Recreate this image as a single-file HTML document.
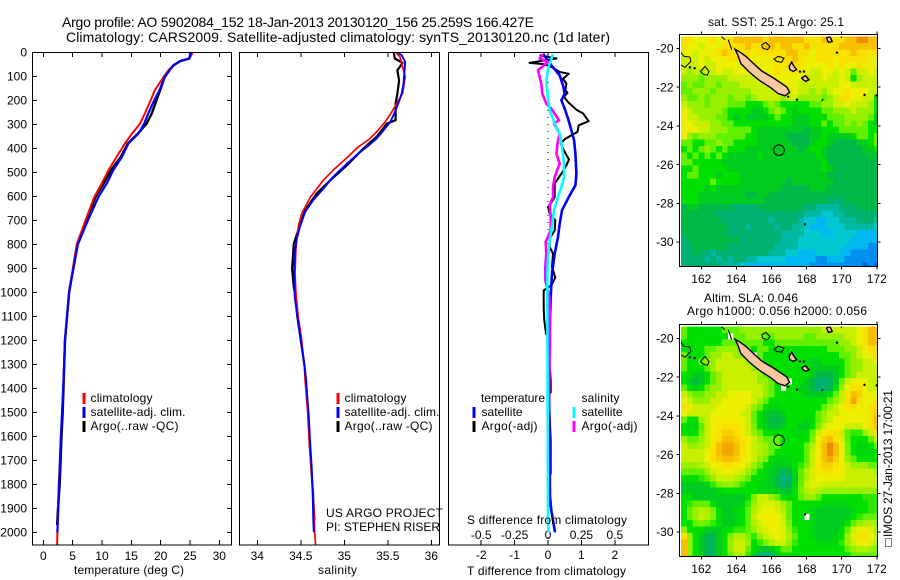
<!DOCTYPE html>
<html lang="en">
<head>
<meta charset="utf-8">
<title>Argo profile</title>
<style>
html,body{margin:0;padding:0;background:#fff;}
svg{display:block;}
text{font-family:"Liberation Sans",Arial,sans-serif;font-size:12px;fill:#000;}
.t14{font-size:14px;}
.ax{fill:none;stroke:#000;stroke-width:1;shape-rendering:crispEdges;}
.tk{stroke:#000;stroke-width:1;shape-rendering:crispEdges;}
.sw{stroke-width:3;shape-rendering:crispEdges;}
.pr{fill:none;stroke-linejoin:round;}
</style>
</head>
<body>
<svg id="chart" xmlns="http://www.w3.org/2000/svg" width="900" height="580" viewBox="0 0 900 580">
  <rect x="0" y="0" width="900" height="580" fill="#fff"/>
  <defs>
    <clipPath id="clipSst"><rect x="681" y="36.5" width="196.5" height="230"/></clipPath>
    <clipPath id="clipSla"><rect x="681" y="326.5" width="196.5" height="230"/></clipPath>
  </defs>
  <text class="t14" x="62" y="27" textLength="472" lengthAdjust="spacing">Argo profile: AO 5902084_152 18-Jan-2013 20130120_156 25.259S 166.427E</text>
  <text class="t14" x="66" y="42" textLength="544" lengthAdjust="spacing">Climatology: CARS2009. Satellite-adjusted climatology: synTS_20130120.nc (1d later)</text>

  <g id="p1"></g>
  <g id="p2"></g>
  <g id="p3"></g>
  <g id="m1"></g>
  <g id="m2"></g>

  <rect class="ax" x="32.5" y="52.5" width="199" height="492.5"/>
  <rect class="ax" x="239.5" y="52.5" width="200" height="492.5"/>
  <rect class="ax" x="448.5" y="52.5" width="200" height="492.5"/>

  <text x="74" y="574" textLength="110" lengthAdjust="spacing">temperature (deg C)</text>
  <text x="318" y="574" textLength="39" lengthAdjust="spacing">salinity</text>
  <text x="467" y="575" textLength="159" lengthAdjust="spacing">T difference from climatology</text>
  <text x="467" y="524" textLength="160" lengthAdjust="spacing">S difference from climatology</text>

  <g>
    <line class="sw" x1="84" x2="84" y1="393" y2="404" stroke="#f00"/>
    <line class="sw" x1="84" x2="84" y1="407" y2="418" stroke="#00f"/>
    <line class="sw" x1="84" x2="84" y1="421" y2="432" stroke="#000"/>
    <text x="90.5" y="402" textLength="62" lengthAdjust="spacing">climatology</text>
    <text x="90.5" y="416" textLength="95" lengthAdjust="spacing">satellite-adj. clim.</text>
    <text x="90.5" y="430" textLength="88" lengthAdjust="spacing">Argo(..raw -QC)</text>
  </g>
  <g>
    <line class="sw" x1="338" x2="338" y1="393" y2="404" stroke="#f00"/>
    <line class="sw" x1="338" x2="338" y1="407" y2="418" stroke="#00f"/>
    <line class="sw" x1="338" x2="338" y1="421" y2="432" stroke="#000"/>
    <text x="344.5" y="402" textLength="62" lengthAdjust="spacing">climatology</text>
    <text x="344.5" y="416" textLength="95" lengthAdjust="spacing">satellite-adj. clim.</text>
    <text x="344.5" y="430" textLength="88" lengthAdjust="spacing">Argo(..raw -QC)</text>
  </g>
  <text x="326" y="517" textLength="117" lengthAdjust="spacing">US ARGO PROJECT</text>
  <text x="326" y="531" textLength="114" lengthAdjust="spacing">PI: STEPHEN RISER</text>

  <g>
    <text x="481" y="402" textLength="64" lengthAdjust="spacing">temperature</text>
    <line class="sw" x1="474" x2="474" y1="407" y2="418" stroke="#00f"/>
    <line class="sw" x1="474" x2="474" y1="421" y2="432" stroke="#000"/>
    <text x="481.5" y="416" textLength="41" lengthAdjust="spacing">satellite</text>
    <text x="481.5" y="430" textLength="56" lengthAdjust="spacing">Argo(-adj)</text>
    <text x="581.5" y="402" textLength="38" lengthAdjust="spacing">salinity</text>
    <line class="sw" x1="574" x2="574" y1="407" y2="418" stroke="#0ff"/>
    <line class="sw" x1="574" x2="574" y1="421" y2="432" stroke="#f0f"/>
    <text x="581.5" y="416" textLength="41" lengthAdjust="spacing">satellite</text>
    <text x="581.5" y="430" textLength="56" lengthAdjust="spacing">Argo(-adj)</text>
  </g>

  <text x="708" y="26" textLength="136" lengthAdjust="spacing">sat. SST: 25.1 Argo: 25.1</text>
  <text x="704" y="302" textLength="94" lengthAdjust="spacing">Altim. SLA: 0.046</text>
  <text x="687" y="315" textLength="180" lengthAdjust="spacing">Argo h1000: 0.056 h2000: 0.056</text>
  <text transform="translate(892 537) rotate(-90)" x="0" y="0" textLength="147" lengthAdjust="spacing">IMOS 27-Jan-2013 17:00:21</text>
  <rect x="885.5" y="538.5" width="6" height="8" fill="none" stroke="#000" stroke-width="1" stroke-dasharray="1 1" shape-rendering="crispEdges"/>
</svg>

<script>
/* ---------- profile data: depth in metres, temperature deg C, salinity PSU ---------- */
const tempSatDepths  = [0,26,37,54,72,103,158,200,255,297,339,380,436,492,547,603,700,800,1000,1200,1400,1500,1600,1700,1800,1900,2000];
const tempSatValues  = [25.1,24.9,23.3,22.2,21.6,20.7,19.8,18.9,17.9,17.2,16.2,14.5,13.4,11.9,10.8,9.4,7.6,5.9,4.4,3.7,3.4,3.2,3.0,2.85,2.7,2.55,2.4];
const tempClimDepths = [0,26,37,54,72,103,158,200,255,297,339,380,436,492,547,603,700,800,1000,1200,1400,1500,1600,1700,1800,1900,2000,2054];
const tempClimValues = [25.5,24.9,23.3,22.2,21.4,20.5,19.0,18.3,17.3,16.5,15.1,13.9,12.5,11.1,9.95,8.7,7.2,5.7,4.4,3.7,3.4,3.2,3.0,2.85,2.65,2.5,2.4,2.35];
const tempArgoDepths = [0,26,37,54,72,103,158,200,255,297,339,380,436,492,547,603,700,800,1000,1200,1400,1500,1600,1700,1800,1900,1970];
const tempArgoValues = [25.1,24.9,23.3,22.2,21.6,20.7,19.9,19.3,18.5,17.6,16.1,14.4,13.2,11.5,10.3,8.9,7.3,5.8,4.4,3.7,3.45,3.3,3.1,2.95,2.8,2.5,2.35];

const salSatDepths  = [3,12,40,89,131,172,214,249,290,325,360,388,422,464,519,568,617,665,728,783,839,922,1019,1100,1200,1300,1367,1436,1505,1644,1728,1839,1950,2000];
const salSatValues  = [35.62,35.66,35.70,35.69,35.68,35.66,35.62,35.58,35.53,35.45,35.37,35.28,35.16,35.03,34.87,34.76,34.64,34.55,34.49,34.45,34.43,34.425,34.43,34.46,34.50,34.54,34.56,34.575,34.59,34.61,34.625,34.637,34.644,34.65];
const salClimDepths = [3,19,103,172,214,249,290,332,364,394,439,485,533,603,672,728,811,922,1006,1100,1200,1300,1367,1436,1505,1644,1728,1839,1950,2000,2054];
const salClimValues = [35.60,35.64,35.70,35.67,35.60,35.545,35.47,35.37,35.28,35.16,35.03,34.89,34.76,34.61,34.51,34.47,34.445,34.433,34.445,34.47,34.51,34.54,34.55,34.565,34.58,34.60,34.62,34.64,34.655,34.66,34.67];
const salArgoDepths = [3,26,44,75,117,172,214,283,297,353,401,471,533,589,658,742,797,901,978,1019,1100,1200,1300,1367,1436,1505,1644,1728,1839,1950];
const salArgoValues = [35.57,35.58,35.67,35.61,35.63,35.61,35.59,35.59,35.49,35.37,35.22,35.03,34.84,34.68,34.55,34.47,34.42,34.40,34.42,34.44,34.46,34.50,34.54,34.56,34.57,34.585,34.605,34.62,34.64,34.655];

/* ---------- difference data ---------- */
const diffTSatDepths  = [6,54,96,138,172,200,235,276,325,367,422,506,554,596,658,714,769,839,922,1019,1158,1367,1853,1908,1950,2000];
const diffTSatValues  = [-0.15,0.10,0.35,0.45,0.50,0.40,0.50,0.60,0.70,0.78,0.82,0.85,0.82,0.65,0.42,0.35,0.30,0.20,0.12,0.08,0.05,0.03,0.06,0.10,0.15,0.21];
const diffTArgoDepths = [12,26,44,50,61,82,89,110,131,158,169,186,207,239,255,287,304,332,346,362,381,415,447,471,506,547,603,631,644,672,700,742,776,811,839,894,939,971,992,1067,1117,1172,1186,1367,1417,1425,1617,1755,1770,1894];
const diffTArgoValues = [-0.25,0.25,-0.55,-0.10,0.10,0.35,0.62,0.45,0.55,0.52,0.58,0.48,0.60,0.85,1.05,1.22,0.92,0.88,0.70,0.50,0.38,0.50,0.63,0.55,0.40,0.20,0.20,0.08,0,0.05,0.22,0.20,0.05,0.05,0.15,0.12,0.22,0.10,-0.13,-0.13,-0.11,-0.06,0,0.08,0.08,0.02,0.08,0.08,0.03,0.05];
const diffSSatDepths  = [8,68,117,193,242,297,339,394,464,519,561,603,658,728,783,853,922,1019,1500,1950,2000];
const diffSSatValues  = [0.0375,0,-0.0125,0,0.0125,0.05,0.0875,0.105,0.12,0.12,0.10,0.075,0.045,0.03,0.0125,0,-0.005,-0.005,-0.0025,0,0.005];
const diffSArgoDepths = [8,26,40,75,131,172,214,235,283,297,339,367,422,464,519,561,603,637,686,742,790,839,894,950,1019,1100,1214,1500];
const diffSArgoValues = [-0.0375,-0.0625,0,-0.075,-0.05,-0.0425,-0.0125,0.025,0.0825,0.045,0.0875,0.075,0.0625,0.0875,0.05,0.0375,0.0375,0.0125,0.02,0.02,-0.0175,-0.0125,-0.02,-0.02,0.01,0.015,0.015,0.005];

/* ---------- tick labels ---------- */
const depthTicks = [0,100,200,300,400,500,600,700,800,900,1000,1100,1200,1300,1400,1500,1600,1700,1800,1900,2000];
const tempTicks  = [0,5,10,15,20,25,30];
const salTicks   = [34,34.5,35,35.5,36];
const diffTTicks = [-2,-1,0,1,2];
const diffSTicks = ['-0.5','-0.25','0','0.25','0.5'];
const lonTicks   = [162,164,166,168,170,172];
const latTicks   = [20,22,24,26,28,30];

/* ---------- map grids: colour-scale level per 1/3 degree cell, rows north to south ---------- */
const sstLevels = [
[13,13,12,12,12,13,12,12,13,14,14,14,14,14,13,14,14,14,14,14,14,13,13,13,14,13,13,13,14,14,15,15,14,14],
[13,12,12,11,12,12,12,13,13,13,13,14,13,13,14,14,13,14,14,13,13,14,13,13,13,13,13,14,14,14,14,14,14,14],
[12,12,11,12,12,12,13,14,13,13,13,13,12,13,13,13,13,13,14,14,13,13,12,13,13,13,13,13,13,14,13,13,13,13],
[11,12,11,12,11,12,12,12,13,13,12,12,12,12,12,12,13,13,13,14,13,12,12,13,13,13,12,13,13,13,13,13,12,12],
[11,11,11,12,11,11,12,12,12,12,12,12,12,12,12,12,13,12,13,13,13,12,12,12,12,13,12,13,12,12,13,12,12,12],
[11,10,11,10,11,11,12,11,11,12,12,12,12,11,12,12,13,12,12,13,12,12,11,11,12,12,11,12,11,9,11,11,12,11],
[10,10,10,9,10,10,10,10,11,11,11,11,11,12,12,12,12,12,12,12,12,11,11,11,12,11,11,12,11,8,10,11,11,11],
[9,10,9,9,10,10,9,10,10,10,11,11,11,11,11,12,12,12,12,12,11,11,11,11,11,11,11,12,12,11,11,11,11,11],
[9,9,10,10,10,9,10,10,10,10,10,10,11,11,11,11,11,11,11,12,11,11,10,11,10,11,12,12,13,12,12,12,11,11],
[10,9,9,10,9,10,10,10,9,10,10,9,10,11,11,11,11,10,11,11,10,10,10,10,9,10,11,13,13,12,12,11,11,8],
[11,10,10,10,9,10,10,10,9,9,9,8,8,8,9,10,9,8,8,8,8,8,9,9,10,10,11,11,12,11,11,11,10,8],
[12,11,10,10,10,10,10,9,8,8,8,8,7,7,8,9,10,9,8,7,8,8,8,8,9,9,10,10,10,11,10,10,10,8],
[12,11,11,10,10,10,9,9,8,7,8,7,7,7,7,8,9,8,8,7,7,7,8,8,8,9,9,9,10,10,10,10,9,7],
[12,12,11,11,11,10,10,9,9,8,8,8,8,8,8,8,8,8,8,7,7,7,8,8,9,8,9,9,10,9,10,9,8,7],
[12,12,12,11,11,10,10,10,9,9,9,9,8,7,7,7,7,7,7,7,7,6,7,7,8,8,8,9,9,9,9,9,8,8],
[12,10,9,10,10,10,9,9,9,9,9,8,8,7,7,7,7,7,6,6,6,6,7,7,8,7,7,7,7,8,9,9,8,9],
[9,9,8,8,9,9,10,9,9,8,8,8,8,7,7,7,7,7,7,6,6,6,7,8,8,7,6,6,6,6,7,7,8,9],
[8,9,8,9,10,9,8,9,8,8,8,7,7,7,7,7,7,7,7,7,6,7,8,8,7,6,6,6,6,6,6,7,7,8],
[9,8,9,8,9,8,9,8,7,7,7,7,7,8,7,7,7,7,7,7,7,7,7,8,7,6,6,6,6,6,6,6,7,6],
[9,9,8,8,8,8,8,7,7,7,7,7,7,7,7,7,7,7,7,7,7,7,7,7,8,6,6,6,6,6,6,6,6,6],
[8,8,9,8,8,8,8,8,7,7,7,7,7,7,7,7,7,7,7,7,7,7,7,7,8,7,6,6,6,6,6,6,6,6],
[8,9,9,8,8,8,7,8,8,8,7,7,7,7,7,7,7,7,7,7,7,7,7,7,7,6,6,6,6,6,6,6,6,6],
[8,8,8,8,8,9,8,8,8,8,7,7,7,7,7,7,7,7,6,7,7,7,7,7,7,7,6,6,6,6,6,6,6,6],
[8,8,8,8,7,8,7,7,7,7,7,7,7,7,7,7,7,6,6,6,6,6,7,7,7,6,6,6,6,6,6,6,6,6],
[8,8,8,7,7,7,7,7,7,7,7,6,6,7,7,6,6,6,6,6,6,6,6,6,6,6,6,6,6,6,6,6,6,6],
[8,8,8,7,7,7,7,7,7,7,7,7,7,7,6,6,6,6,6,6,6,6,6,6,6,5,5,5,6,6,6,6,6,6],
[6,7,7,6,6,6,6,6,6,5,5,5,5,6,6,6,6,6,6,6,6,5,5,4,4,4,4,5,5,5,6,6,6,6],
[6,6,6,6,6,6,5,5,5,5,5,5,5,5,5,5,5,5,5,5,5,4,4,4,3,3,4,4,5,5,5,5,5,5],
[6,6,6,6,6,6,6,5,5,5,5,5,5,5,5,4,5,5,5,5,4,3,3,2,2,3,3,4,4,4,5,5,5,4],
[6,6,6,6,6,6,6,6,5,5,5,4,5,5,5,5,4,5,5,4,4,3,2,2,2,3,3,3,4,4,4,4,4,3],
[6,6,6,6,6,6,6,6,5,5,5,5,5,5,5,5,5,4,4,4,4,3,3,3,2,2,3,3,3,3,2,2,2,2],
[5,6,6,6,6,6,6,6,6,6,5,5,5,5,5,5,5,4,4,4,3,3,3,3,3,3,3,3,3,2,2,2,2,2],
[5,5,6,6,6,6,6,6,5,5,5,5,5,5,5,5,4,4,4,4,3,3,3,3,3,3,3,3,2,2,2,2,1,1],
[5,5,6,5,5,4,5,5,5,5,5,5,5,5,5,4,4,4,3,3,2,2,2,3,3,3,3,2,2,1,1,1,1,1],
[5,5,5,5,4,5,4,5,4,5,5,4,4,3,3,3,3,3,2,2,2,2,2,1,1,2,2,2,1,1,1,1,1,1],
[5,5,5,5,5,5,5,4,4,4,3,2,2,2,2,2,2,2,2,2,2,2,1,1,1,1,1,1,1,1,1,0,1,0]
];
const slaLevels = [
[9,8,8,8,8,8,8,9,9,9,10,10,10,10,10,10,10,10,10,10,10,10,10,10,11,11,11,11,11,11,12,13,14,14],
[9,8,8,8,8,8,8,8,null,9,9,10,10,10,9,9,10,10,10,10,10,9,9,10,10,10,10,10,11,11,12,13,14,14],
[8,8,8,8,8,8,8,9,9,9,9,9,9,9,8,8,9,9,9,9,9,9,9,9,9,9,9,10,10,11,12,13,14,14],
[8,8,8,8,9,9,10,10,10,10,null,9,8,9,9,8,8,8,8,8,8,8,8,8,8,9,9,9,10,10,11,12,13,13],
[9,8,8,8,9,10,10,11,11,10,10,10,null,9,8,8,8,8,8,8,8,8,8,8,8,8,8,9,9,10,11,12,12,13],
[9,8,8,9,10,10,11,11,11,11,11,10,10,9,8,8,8,8,8,8,8,8,7,7,8,8,8,8,9,10,10,11,11,12],
[9,8,8,8,9,10,11,11,11,11,11,11,10,null,9,8,8,8,8,8,8,8,7,7,7,7,7,8,9,10,10,11,11,11],
[8,8,7,7,8,9,10,11,11,11,11,11,11,10,9,8,8,8,8,8,8,8,7,6,6,6,7,8,9,10,11,11,11,11],
[8,7,6,7,8,9,10,11,11,11,11,11,11,10,10,9,8,8,null,8,8,7,6,5,5,5.5,7,9,11,12,12,12,11,11],
[9,8,7,8,9,10,10,11,11,11,11,11,11,11,10,9,8,null,8,8,7,7,6,5,5,6,8,10,12,13,13,12,11,11],
[11,10,9,9,10,10,11,11,12,12,12,12,11,11,10,9,8,8,8,8,8,7,7,7,7,8,9,11,12.5,14,13.5,12,12,12],
[12,11,10,10,10,11,11,12,12,12,12,12,11,10,9,8,8,8,8,8,8,8,8,8,8,9,10,11,13,14.5,13,12,12,13],
[13,12,11,11,11,11,12,12,12,12,12,11,10,9,8,7.5,7.5,8,8,8,8,8,8,8,9,10,11,12,12.5,13,12,12,13,13],
[12,11,11,11,11,12,12,12,12,12,11,11,9,8,7,6.5,6.5,7,8,8,8,8,8,9,10,11,11,12,12,12,12,12,13,13.5],
[9,8,8,10,11,12,12,12.5,12.5,12,12,11,9,8,7,6,6,6.5,8,8,8,7.5,8,9,10,11,12,12,12,12,12,12,13,14],
[8,7.5,7.5,9,11,12,12.5,13,13,13,12,11,9.5,8,7,6.5,6.5,7,8,8,7,7,8,9.5,11,12,12,12,11,11,11,12,13,14],
[8,7.5,8,9.5,11,12,13,13.5,13.5,13,12.5,11,10,9,8,8,8,8,8,7.5,7.5,8,9,11,12.5,13,13,11,9,8.5,8.5,10,11,13],
[10,9,9,10,11,12,13,14,14,13.5,13,12,11,10,9,9,9,8,8,8,8,8,9.5,12,13.5,14,13,11.5,9,8,8,8,9,11],
[11,10,10,10.5,11,12.5,14,14.5,14.5,14,13,12,11,10.5,10,9,9,8,8,8,8,9,10.5,12.5,14,15,14,12,9.5,8,7.5,7.5,8,9],
[11,11,11,11,12,13,14,14.5,14.5,14,13,12,11,10.5,10,9,8,8,8,8,8,9,11,12.5,14,15,14,12,9.5,8,7.5,7.5,7.5,8],
[11,11,11,11,12,13,13.5,14,14,13.5,12.5,12,11,10,9.5,8,7.5,7.5,7.5,8,8,9,11,12.5,14,14.5,13.5,12,10,9,8,8,8,8],
[10,10,10,10.5,11,12,12.5,13,13,12.5,12,11,10,9,8,7.5,7,7,7.5,8,8.5,9.5,11,12.5,13.5,13.5,13,12,11,10,10,10,9,9],
[9,9,9,9,10,11,11.5,12,12,11.5,11,10,9,8,7.5,7,6.5,5.5,6,7.5,9,10.5,11.5,12.5,13,13,12.5,12,11,11,11,11,11,10],
[8,8,8,8.5,9,10,11,11,11,10.5,10,9,8,8,7.5,7,6,4.5,5,7,9,10.5,11.5,12,12,12,12,12,11,11,11,11,11,11],
[7,7,7,7,7.5,8.5,9.5,10,10,9.5,8.5,8,8,7.5,7.5,7,6,5,5.5,7.5,9,11,11.5,11.5,11,11,11,11,11,11,11,11,11,11],
[7,7,7,7,7,7,7.5,8,8,8,8,8,8,7.5,7.5,7.5,7,6.5,6.5,8,9.5,10.5,11,10.5,10,10,10,10,10,10,10,10,10,10],
[8,8,7,7,7,7,7,7,7,7,7,8,9.5,11,11,10,9,8,7.5,8,9,10,10,9,8,8,8,8,8,8,8,8.5,8.5,8.5],
[8,8.5,9,9,9,8,7,7,7,7,7.5,8.5,10,11,11.5,11.5,11,10,9,8,8,8,8,8,7.5,7.5,7.5,7.5,7.5,8,8,8,8.5,8.5],
[8,9,10,10.5,10.5,9.5,8,7,7,7.5,8,9,10.5,11.5,12,12,11.5,10.5,9,8,8,8,7.5,7,7,7,7,7,7,7.5,8,8,8.5,8.5],
[8,9,10,11,10.5,9.5,8,7,7,7.5,8,9,11,12,12.5,12.5,12,11,9,8,8,null,7.5,7,7,7,7,7,7,8,8.5,9,9,9],
[8,8,9,9.5,9,8.5,8,7,7,7.5,8,9,10.5,11.5,12,12.5,12,11,9.5,8,8,8,7.5,7,7,7,7,7,8,9,10,10.5,10.5,10],
[10,8,8,8,7,7,7,8,8,8.5,8.5,9,10,11,11.5,12,12,11.5,10,8.5,8,8,7.5,7,7,7,7,8,9,11,12,12,11.5,10.5],
[13,10,8,7,6,6,7,8,9.5,10.5,10.5,9.5,8.5,10,11,11.5,12,11.5,10.5,9,8,8,7.5,7,7,7,7.5,8,10,11.5,13,13,12,11],
[14,10,8,7,5.5,5.5,7,8,10,11,11,10,8,8.5,9.5,10.5,11,11,10,8.5,8,8,8,7.5,7.5,7.5,8,8.5,10,11,12,12,11.5,10.5],
[14,10,8,7,5.5,5.5,7,8,10,11,11,9,8,7,6.5,7,8,9,9,8,8,8,8,8,8,8,8,8,9,10,10.5,10.5,10,9.5],
[14,10,8,7,5.5,5.5,7,8,9,10.5,10.5,8.5,7,5,4.5,5,7,8,8,8,8,8,8,8,8,8,8,8,8,9,9,9,9,9]
];

/* ---------- coastlines: [lon, degrees south] ---------- */
const mainIsland = [[163.92,20.04],[164.22,20.2],[164.55,20.42],[164.95,20.76],[165.42,21.15],[166.15,21.55],[166.88,22.0],[167.03,22.27],[166.77,22.45],[166.37,22.33],[165.98,22.04],[165.3,21.65],[164.73,21.22],[164.25,20.78],[164.08,20.34]];
const lifouIsland = [[167.01,20.93],[167.15,20.71],[167.28,20.93],[167.43,21.1],[167.24,21.19],[167.05,21.1]];
const mareIsland = [[167.72,21.53],[167.94,21.41],[168.13,21.62],[167.96,21.7],[167.81,21.62]];
const topIsland = [[169.14,19.47],[169.33,19.38],[169.46,19.64],[169.24,19.69]];
const reefChesterfield = [[160.78,20.15],[161.01,20.41],[161.35,20.45],[161.41,20.67],[161.07,20.98],[160.82,20.84]];
const reefWest = [[161.96,21.19],[162.21,20.93],[162.44,21.19],[162.34,21.39],[162.08,21.31]];
const reefNorth = [[165.44,19.81],[165.68,19.69],[165.91,19.90],[165.76,20.07],[165.49,19.98]];
const reefOuvea = [[166.14,20.55],[166.39,20.41],[166.71,20.5],[166.58,20.72],[166.29,20.67]];
const reefLines = [[[163.03,19.29],[163.35,19.55]],[[163.54,19.55],[163.73,20.07]],[[169.95,19.45],[170.02,19.38]],[[168.85,22.72],[168.95,22.62]]];
const smallDots = [[161.35,20.98],[161.62,21.02],[167.45,22.65],[167.62,21.2],[167.85,21.2],[171.3,22.4],[172.0,22.43],[169.73,20.22],[166.95,22.5],[167.91,29.09]];
const profileLon = 166.427;
const profileLat = 25.259;

/* ---------- helpers ---------- */
const NS = 'http://www.w3.org/2000/svg';
function mk(tag, attrs, parent) {
  const n = document.createElementNS(NS, tag);
  for (const k in attrs) n.setAttribute(k, attrs[k]);
  parent.appendChild(n);
  return n;
}
const depthY = d => 52.3 + d * 0.24;
const tempX = t => 43.3 + t * 5.867;
const salX  = s => 257.3 + (s - 34) * 87;
const diffX = t => 548 + t * 33.4;
const diffSX = s => 548 + s * 133.6;
function pathOf(xs, depths, xf) {
  return xs.map((v, i) => (i ? 'L' : 'M') + xf(v).toFixed(1) + ' ' + depthY(depths[i]).toFixed(1)).join('');
}
function drawProfile(parent, name, xs, depths, xf, color, width) {
  const p = mk('path', {class: 'pr', d: pathOf(xs, depths, xf), stroke: color, 'stroke-width': width}, parent);
  
  
}

/* ---------- temperature panel ---------- */
const p1 = document.getElementById('p1');
depthTicks.forEach(d => {
  const t = mk('text', {x: 27, y: depthY(d) + 4.2, 'text-anchor': 'end'}, p1);
  
  
  t.textContent = d;
  const a = mk('line', {class: 'tk', x1: 32.5, x2: 37, y1: depthY(d), y2: depthY(d)}, p1);
  
  
  const b = mk('line', {class: 'tk', x1: 227, x2: 231.5, y1: depthY(d), y2: depthY(d)}, p1);
  
  
});
tempTicks.forEach(v => {
  const t = mk('text', {x: tempX(v), y: 560, 'text-anchor': 'middle'}, p1);
  
  
  t.textContent = v;
  [[52.5, 57], [540, 545]].forEach(r => {
    const l = mk('line', {class: 'tk', x1: tempX(v), x2: tempX(v), y1: r[0], y2: r[1]}, p1);
    
    
  });
});
drawProfile(p1, 'temperature-argo-line', tempArgoValues, tempArgoDepths, tempX, '#000', 2.4);
drawProfile(p1, 'temperature-climatology-line', tempClimValues, tempClimDepths, tempX, '#f00', 2);
drawProfile(p1, 'temperature-satellite-line', tempSatValues, tempSatDepths, tempX, '#00f', 2.2);

/* ---------- salinity panel ---------- */
const p2 = document.getElementById('p2');
salTicks.forEach(v => {
  const t = mk('text', {x: salX(v), y: 560, 'text-anchor': 'middle'}, p2);
  
  
  t.textContent = v;
  [[52.5, 57], [540, 545]].forEach(r => {
    const l = mk('line', {class: 'tk', x1: salX(v), x2: salX(v), y1: r[0], y2: r[1]}, p2);
    
    
  });
});
drawProfile(p2, 'salinity-argo-line', salArgoValues, salArgoDepths, salX, '#000', 2.2);
drawProfile(p2, 'salinity-climatology-line', salClimValues, salClimDepths, salX, '#f00', 1.7);
drawProfile(p2, 'salinity-satellite-line', salSatValues, salSatDepths, salX, '#00f', 1.9);

/* ---------- difference panel ---------- */
const p3 = document.getElementById('p3');
diffTTicks.forEach((v, i) => {
  const t = mk('text', {x: diffX(v), y: 559, 'text-anchor': 'middle'}, p3);
  
  
  t.textContent = v;
  const s = mk('text', {x: diffX(v), y: 539, 'text-anchor': 'middle'}, p3);
  
  
  s.textContent = diffSTicks[i];
  [[52.5, 57], [540, 545]].forEach(r => {
    const l = mk('line', {class: 'tk', x1: diffX(v), x2: diffX(v), y1: r[0], y2: r[1]}, p3);
    
    
  });
});
const zl = mk('line', {x1: diffX(0), x2: diffX(0), y1: 54, y2: 545, stroke: '#000', 'stroke-width': 1, 'stroke-dasharray': '1 6', 'shape-rendering': 'crispEdges'}, p3);


drawProfile(p3, 'difference-t-argo-line', diffTArgoValues, diffTArgoDepths, diffX, '#000', 2);
drawProfile(p3, 'difference-t-satellite-line', diffTSatValues, diffTSatDepths, diffX, '#00f', 2.6);
drawProfile(p3, 'difference-s-argo-line', diffSArgoValues, diffSArgoDepths, diffSX, '#f0f', 2.6);
drawProfile(p3, 'difference-s-satellite-line', diffSSatValues, diffSSatDepths, diffSX, '#0ff', 2.6);

/* ---------- maps ---------- */
const colorStops = [[0,96,240],[0,144,240],[0,184,240],[0,200,208],[0,184,160],[0,176,112],[0,184,72],[0,204,32],[0,224,0],[96,240,0],[150,240,0],[200,240,0],[236,240,0],[248,224,0],[248,190,0],[240,140,0]];
function levelColor(v) {
  const c = Math.max(0, Math.min(colorStops.length - 1, v));
  const i = Math.min(colorStops.length - 2, Math.floor(c));
  const f = c - i;
  const a = colorStops[i], b = colorStops[i + 1];
  return 'rgb(' + [0, 1, 2].map(k => Math.round(a[k] + (b[k] - a[k]) * f)).join(',') + ')';
}
function polyStr(pts, lonX, latY) {
  return pts.map(p => lonX(p[0]).toFixed(1) + ',' + latY(p[1]).toFixed(1)).join(' ');
}
function drawMap(id, keyName, grid, topPx, clipId) {
  const g = document.getElementById(id);
  const lonX = lon => 701.3 + (lon - 162) * 17.55;
  const latY = lat => topPx + 14.4 + (lat - 20) * 19.36;
  const left = 679.5, right = 877.5, top = topPx + 0.5, bottom = topPx + 232.5;
  const cells = mk('g', {'clip-path': 'url(#' + clipId + ')'}, g);
  
  
  const lon0 = 160.84, lat0 = 19.38, step = 1 / 3;
  grid.forEach((row, r) => row.forEach((v, c) => {
    if (v === null) return;
    const x0 = lonX(lon0 + c * step), x1 = lonX(lon0 + (c + 1) * step);
    const y0 = latY(lat0 + r * step), y1 = latY(lat0 + (r + 1) * step);
    const cell = mk('rect', {x: x0, y: y0, width: x1 - x0 + 0.5, height: y1 - y0 + 0.5, fill: levelColor(v), 'shape-rendering': 'crispEdges'}, cells);
    
    
  }));
  const coast = mk('g', {'clip-path': 'url(#' + clipId + ')'}, g);
  
  
  [mainIsland, lifouIsland, mareIsland, topIsland].forEach(pts => {
    const isl = mk('polygon', {points: polyStr(pts, lonX, latY), fill: '#fac8a0', stroke: '#000', 'stroke-width': 1.4}, coast);
    
    
  });
  [reefChesterfield, reefWest, reefNorth, reefOuvea].forEach(pts => {
    const rf = mk('polygon', {points: polyStr(pts, lonX, latY), fill: 'none', stroke: '#000', 'stroke-width': 1}, coast);
    
    
  });
  reefLines.forEach(pts => {
    const rl = mk('polyline', {points: polyStr(pts, lonX, latY), fill: 'none', stroke: '#000', 'stroke-width': 1}, coast);
    
    
  });
  smallDots.forEach(p => {
    const dot = mk('circle', {cx: lonX(p[0]), cy: latY(p[1]), r: 1.2, fill: '#000'}, coast);
    
    
  });
  const marker = mk('circle', {cx: lonX(profileLon), cy: latY(profileLat), r: 5.3, fill: 'none', stroke: '#000', 'stroke-width': 1}, g);
  
  
  const frame = mk('rect', {class: 'ax', x: left, y: top, width: right - left, height: bottom - top}, g);
  
  
  lonTicks.forEach(v => {
    const x = lonX(v);
    const lab = mk('text', {x: x, y: bottom + 16.5, 'text-anchor': 'middle'}, g);
    
    
    lab.textContent = v;
    [[top - 3, top], [bottom, bottom + 3]].forEach(s => {
      const l = mk('line', {class: 'tk', x1: x, x2: x, y1: s[0], y2: s[1]}, g);
      
      
    });
  });
  latTicks.forEach(v => {
    const y = latY(v);
    const lab = mk('text', {x: 673.5, y: y + 4.2, 'text-anchor': 'end'}, g);
    
    
    lab.textContent = '-' + v;
    [[left - 3, left], [right, right + 3]].forEach(s => {
      const l = mk('line', {class: 'tk', x1: s[0], x2: s[1], y1: y, y2: y}, g);
      
      
    });
  });
}
drawMap('m1', 'sst-map', sstLevels, 34, 'clipSst');
drawMap('m2', 'sla-map', slaLevels, 324, 'clipSla');
</script>
</body>
</html>
